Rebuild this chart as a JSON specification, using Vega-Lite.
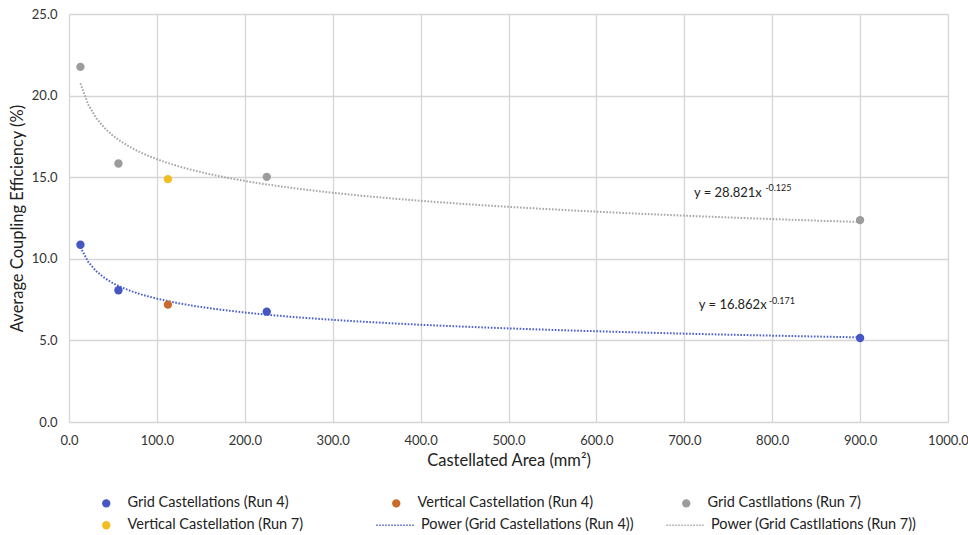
{
  "$schema": "https://vega.github.io/schema/vega-lite/v6.json",
  "width": 879,
  "height": 408,
  "autosize": {"type": "none"},
  "padding": {"left": 69, "top": 14, "right": 20, "bottom": 113},
  "background": "white",
  "config": {
    "view": {"stroke": null},
    "font": "Lato",
    "axis": {
      "labelFont": "Lato", "labelFontSize": 13, "labelColor": "#333333",
      "titleFont": "Lato", "titleFontSize": 16.5, "titleFontWeight": "normal", "titleColor": "#222222",
      "grid": true, "gridColor": "#D6D6D6", "gridWidth": 1.3,
      "domain": false, "ticks": false, "labelFlush": false
    },
    "legend": {
      "title": null, "orient": "none", "direction": "horizontal", "padding": 0,
      "labelFont": "Lato", "labelFontSize": 14.5, "labelColor": "#222222", "labelLimit": 400
    }
  },
  "resolve": {"scale": {"color": "independent"}, "legend": {"color": "independent"}},
  "datasets": {
    "points": [
      {"series": "Grid Castellations (Run 4)", "trend": "Power (Grid Castellations (Run 4))", "area": 13, "eff": 10.86},
      {"series": "Grid Castellations (Run 4)", "trend": "Power (Grid Castellations (Run 4))", "area": 56.25, "eff": 8.07},
      {"series": "Grid Castellations (Run 4)", "trend": "Power (Grid Castellations (Run 4))", "area": 225, "eff": 6.76},
      {"series": "Grid Castellations (Run 4)", "trend": "Power (Grid Castellations (Run 4))", "area": 900, "eff": 5.15},
      {"series": "Vertical Castellation (Run 4)", "trend": null, "area": 112.5, "eff": 7.19},
      {"series": "Grid Castllations (Run 7)", "trend": "Power (Grid Castllations (Run 7))", "area": 13, "eff": 21.76},
      {"series": "Grid Castllations (Run 7)", "trend": "Power (Grid Castllations (Run 7))", "area": 56.25, "eff": 15.84},
      {"series": "Grid Castllations (Run 7)", "trend": "Power (Grid Castllations (Run 7))", "area": 225, "eff": 15.02},
      {"series": "Grid Castllations (Run 7)", "trend": "Power (Grid Castllations (Run 7))", "area": 900, "eff": 12.37},
      {"series": "Vertical Castellation (Run 7)", "trend": null, "area": 112.5, "eff": 14.88}
    ],
    "labels": [
      {"area": 711, "eff": 14.06, "main": "y = 28.821x", "sa": 792, "se": 14.32, "sup": "-0.125"},
      {"area": 716.5, "eff": 7.16, "main": "y = 16.862x", "sa": 796, "se": 7.42, "sup": "-0.171"}
    ]
  },
  "layer": [
    {
      "data": {"name": "points"},
      "transform": [
        {"filter": "datum.trend != null"},
        {"regression": "eff", "on": "area", "method": "pow", "groupby": ["trend"], "extent": [13, 900]}
      ],
      "mark": {"type": "line", "strokeWidth": 2, "strokeDash": [1.6, 1.6], "strokeCap": "butt", "clip": true},
      "encoding": {
        "x": {"field": "area", "type": "quantitative"},
        "y": {"field": "eff", "type": "quantitative"},
        "color": {
          "field": "trend", "type": "nominal",
          "scale": {"domain": ["Power (Grid Castellations (Run 4))", "Power (Grid Castllations (Run 7))"], "range": ["#4A5FD0", "#A6A6A6"]},
          "legend": {
            "legendX": 306, "legendY": 491, "columns": 2, "columnPadding": 29,
            "symbolType": "stroke", "symbolSize": 1400, "symbolStrokeWidth": 1.6, "symbolDash": [1.5, 1.5],
            "labelOffset": 6
          }
        }
      }
    },
    {
      "data": {"name": "points"},
      "mark": {"type": "point", "filled": true, "size": 70, "opacity": 1},
      "encoding": {
        "x": {
          "field": "area", "type": "quantitative",
          "scale": {"domain": [0, 1000], "nice": false, "zero": true},
          "axis": {"values": [0, 100, 200, 300, 400, 500, 600, 700, 800, 900, 1000], "format": ".1f", "labelPadding": 12, "titlePadding": 5, "title": "Castellated Area (mm²)"}
        },
        "y": {
          "field": "eff", "type": "quantitative",
          "scale": {"domain": [0, 25], "nice": false},
          "axis": {"values": [0, 5, 10, 15, 20, 25], "format": ".1f", "labelPadding": 12, "titlePadding": 6, "title": "Average Coupling Efficiency (%)"}
        },
        "color": {
          "field": "series", "type": "nominal",
          "scale": {
            "domain": ["Grid Castellations (Run 4)", "Vertical Castellation (Run 4)", "Grid Castllations (Run 7)", "Vertical Castellation (Run 7)"],
            "range": ["#4656C2", "#C96A2C", "#9C9C9C", "#F0BE22"]
          },
          "legend": {
            "legendX": 30, "legendY": 482, "columns": 3, "gridAlign": "all",
            "columnPadding": 85, "rowPadding": 7,
            "symbolType": "circle", "symbolSize": 70, "labelOffset": 14
          }
        }
      }
    },
    {
      "data": {"name": "labels"},
      "mark": {"type": "text", "align": "left", "baseline": "middle", "fontSize": 13, "font": "Lato", "color": "#222222"},
      "encoding": {
        "x": {"field": "area", "type": "quantitative"},
        "y": {"field": "eff", "type": "quantitative"},
        "text": {"field": "main"}
      }
    },
    {
      "data": {"name": "labels"},
      "mark": {"type": "text", "align": "left", "baseline": "middle", "fontSize": 9, "font": "Lato", "color": "#222222"},
      "encoding": {
        "x": {"field": "sa", "type": "quantitative"},
        "y": {"field": "se", "type": "quantitative"},
        "text": {"field": "sup"}
      }
    }
  ]
}
